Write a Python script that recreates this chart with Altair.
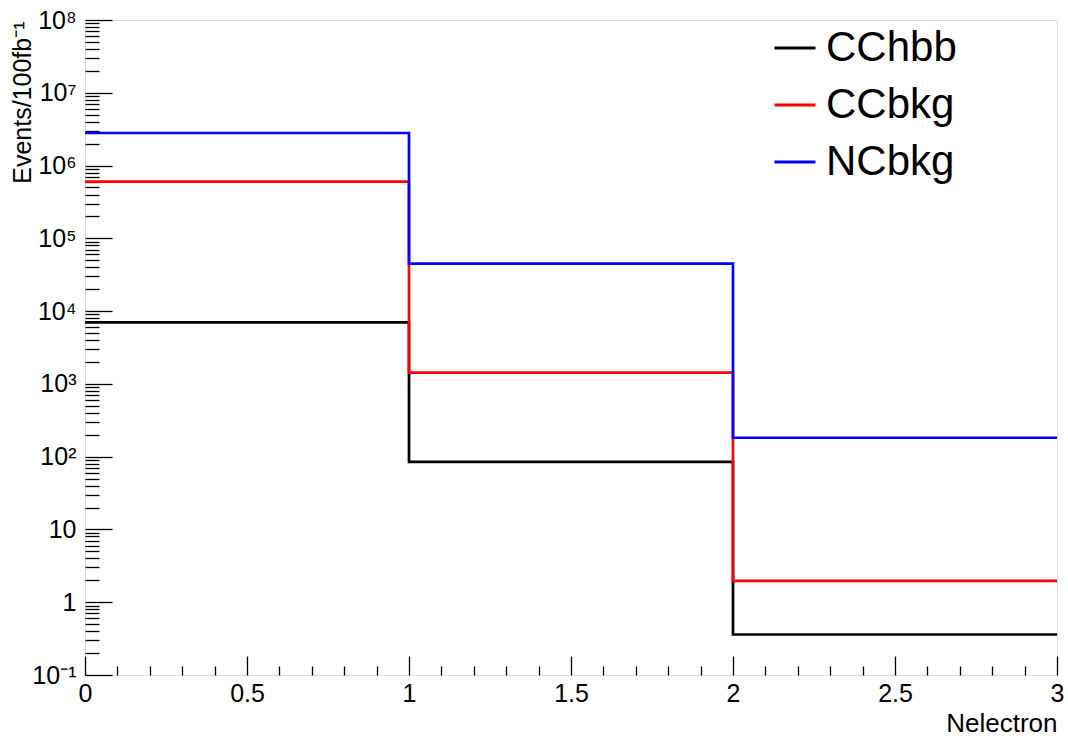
import altair as alt
import pandas as pd
import math

# ---- data ----
series = ["CChbb", "CCbkg", "NCbkg"]
colors = ["#000000", "#ff0000", "#0000ff"]
bin_edges = [0, 1, 2, 3]
cchbb = [7.0e3, 85, 0.36]
ccbkg = [6.0e5, 1.43e3, 1.97]
ncbkg = [2.8e6, 4.5e4, 182]

y_major = [0.1, 1, 10, 1e2, 1e3, 1e4, 1e5, 1e6, 1e7, 1e8]
y_labels = ["10⁻¹", "1", "10", "10²", "10³", "10⁴", "10⁵", "10⁶", "10⁷", "10⁸"]
y_minor = [k * 10.0 ** e for e in range(-1, 8) for k in range(2, 10)]
x_major = [0, 0.5, 1, 1.5, 2, 2.5, 3]
x_minor = [round(i * 0.1, 1) for i in range(31) if i % 5 != 0]

rows = []
for name, vals in zip(series, [cchbb, ccbkg, ncbkg]):
    ext = vals + [vals[-1]]
    for i, (x, y) in enumerate(zip(bin_edges, ext)):
        rows.append({"series": name, "x": x, "y": y, "order": i})
df = pd.DataFrame(rows)

# label expression for y axis, built from the label list
expr = "''"
for v, lab in reversed(list(zip(y_major, y_labels))):
    expr = f"abs(log(datum.value)/LN10 - ({math.log10(v)})) < 0.01 ? '{lab}' : " + expr

FONT = "Liberation Sans"
common = dict(grid=False, domain=False, tickColor="black", tickWidth=1.3,
              tickOpacity=1, labelColor="black", titleColor="black",
              labelFont=FONT, titleFont=FONT)

scale_x = alt.Scale(domain=[0, 3], nice=False, zero=False)
scale_y = alt.Scale(type="log", domain=[0.1, 1e8], nice=False)

base = alt.Chart(df)

lines = base.mark_line(interpolate="step-after", strokeWidth=2.7, clip=True).encode(
    x=alt.X("x:Q", scale=scale_x,
            axis=alt.Axis(values=x_major, tickSize=19, offset=-19,
                          labelFlush=False, labelOverlap=False, format="~g",
                          labelPadding=6, labelFontSize=25, orient="bottom",
                          title="Nelectron", titleFontSize=26, titleFontWeight="normal",
                          titleX=972, titleY=67, titleAlign="right", titleBaseline="middle",
                          titleAnchor="end", **common)),
    y=alt.Y("y:Q", scale=scale_y,
            axis=alt.Axis(values=y_major, tickSize=27, offset=-27,
                          labelExpr=expr, labelOverlap=False, labelPadding=9,
                          labelFontSize=25, orient="left",
                          title="Events/100fb⁻¹", titleFontSize=25, titleFontWeight="normal",
                          titleX=-90, titleY=1, titleAngle=-90, titleAlign="right",
                          titleBaseline="middle", titleAnchor="end", **common)),
    color=alt.Color("series:N", scale=alt.Scale(domain=series, range=colors),
                    legend=alt.Legend(orient="none", legendX=688, legendY=6, title=None,
                                      symbolType="stroke", symbolSize=1681,
                                      symbolStrokeWidth=3, labelFontSize=42,
                                      labelFont=FONT, rowPadding=14, labelOffset=9,
                                      padding=0, labelLimit=400, labelColor="black")),
    order="order:Q",
)

minor = base.mark_line(strokeOpacity=0).encode(
    x=alt.X("x:Q", scale=scale_x,
            axis=alt.Axis(values=x_minor, tickSize=9, offset=-9,
                          labels=False, title=None, orient="bottom", **common)),
    y=alt.Y("y:Q", scale=scale_y,
            axis=alt.Axis(values=y_minor, tickSize=14, offset=-14,
                          labels=False, title=None, orient="left", **common)),
    detail="series:N",
    order="order:Q",
)

chart = alt.layer(lines, minor).resolve_axis(x="independent", y="independent").properties(
    width=972, height=655,
    autosize=alt.AutoSizeParams(type="none"),
    padding={"left": 85, "top": 20, "right": 11, "bottom": 66},
).configure_view(stroke="black", strokeWidth=1.5).configure(background="white")

chart.save("out.html", embed_options={"renderer": "svg", "actions": False})
